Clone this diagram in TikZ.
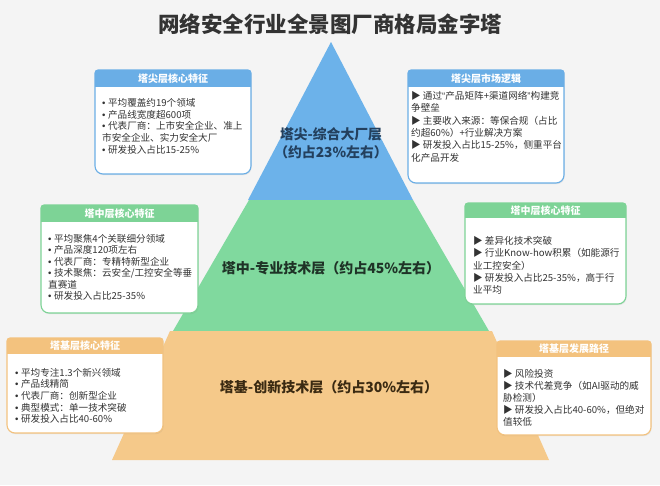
\documentclass[tikz,border=0pt]{standalone}
\usepackage{fontspec}
\setmainfont{Noto Sans CJK SC}
\newfontfamily\bulfont{Liberation Sans}
\newcommand{\bul}{{\bulfont •}\hspace{2.5pt}}
\newcommand{\myopq}{{\bulfont “}}
\newcommand{\myclq}{{\bulfont ”}}
\usetikzlibrary{shadows}
\definecolor{bg}{HTML}{F4F4F4}
\definecolor{pblue}{HTML}{6CB2EA}
\definecolor{pgreen}{HTML}{80D99E}
\definecolor{porange}{HTML}{F5C98A}
\definecolor{hblue}{HTML}{6AAEE6}
\definecolor{hgreen}{HTML}{7DD396}
\definecolor{horange}{HTML}{F3C27E}
\definecolor{txt}{HTML}{333333}
\definecolor{tblue}{HTML}{23405E}
\definecolor{tgreen}{HTML}{1F3327}
\definecolor{torange}{HTML}{3A2A12}
\tikzset{
  bodytext/.style={anchor=north west, align=left, inner sep=0pt, text=txt, font=\fontsize{9.6}{#1}\selectfont},
  bodytext/.default=12,
  hdrtext/.style={text=white, font=\bfseries\fontsize{10}{12}\selectfont, inner sep=0pt},
  layertext/.style={font=\bfseries\fontsize{14}{18}\selectfont, align=center, inner sep=0pt},
  boxshadow/.style={drop shadow={opacity=0.15,shadow xshift=0.6pt,shadow yshift=-1.2pt}},
}
\newcommand{\infobox}[8]{%
  \fill[white, boxshadow] (#2,{(#3+#5)/2}) [rounded corners=3pt] -- (#2,#3) -- (#4,#3) -- (#4,{(#3+#5)/2}) [rounded corners=8pt] -- (#4,#5) -- (#2,#5) -- cycle;
  \begin{scope}
    \clip (#2,{(#3+#5)/2}) [rounded corners=3pt] -- (#2,#3) -- (#4,#3) -- (#4,{(#3+#5)/2}) [rounded corners=8pt] -- (#4,#5) -- (#2,#5) -- cycle;
    \fill[#7] (#2,#3) rectangle (#4,#6);
  \end{scope}
  \draw[#7, line width=1.1pt] (#2,{(#3+#5)/2}) [rounded corners=3pt] -- (#2,#3) -- (#4,#3) -- (#4,{(#3+#5)/2}) [rounded corners=8pt] -- (#4,#5) -- (#2,#5) -- cycle;
  \node[hdrtext] (#1) at ({(#2+#4)/2},{(#3+#6)/2}) {#8};
}
\begin{document}
\begin{tikzpicture}[x=1pt,y=-1pt]
\useasboundingbox (0,0) rectangle (660,485);
\fill[bg] (0,0) rectangle (660,485);

% title
\node[font=\bfseries\fontsize{21.5}{26}\selectfont, text=txt] (title) at (330,24) {网络安全行业全景图厂商格局金字塔};

% pyramid
\fill[pblue] (331,42) -- (413,200) -- (248,200) -- cycle;
\fill[pgreen] (249,200) -- (413,200) -- (489,331) -- (173,331) -- cycle;
\fill[porange] (170,331) -- (492,331) -- (549,460) -- (112,460) -- cycle;

\node[layertext, text=tblue, font=\bfseries\fontsize{13.8}{18.5}\selectfont] (tiptext) at (331,143) {塔尖-综合大厂层\\（约占23\%左右）};
\node[layertext, text=tgreen] (midtext) at (331,268) {塔中-专业技术层（约占45\%左右）};
\node[layertext, text=torange] (basetext) at (329,387) {塔基-创新技术层（约占30\%左右）};

% boxes
\infobox{tlh}{95}{70}{251}{174}{87}{hblue}{塔尖层核心特征}
\node[bodytext=11.8] (tlbody) at (102,98) {\bul 平均覆盖约19个领域\\\bul 产品线宽度超600项\\\bul 代表厂商：上市安全企业、准上\\市安全企业、实力安全大厂\\\bul 研发投入占比15-25\%};

\infobox{trh}{408}{70}{564}{183}{87}{hblue}{塔尖层市场逻辑}
\node[bodytext=12.4] (trbody) at (411,91) {▶ 通过\myopq 产品矩阵+渠道网络\myclq 构建竞\\争壁垒\\▶ 主要收入来源：等保合规（占比\\约超60\%）+行业解决方案\\▶ 研发投入占比15-25\%，侧重平台\\化产品开发};

\infobox{mlh}{41}{205}{198}{313}{222}{hgreen}{塔中层核心特征}
\node[bodytext=11.5] (mlbody) at (48,234) {\bul 平均聚焦4个关联细分领域\\\bul 产品深度120项左右\\\bul 代表厂商：专精特新型企业\\\bul 技术聚焦：云安全/工控安全等垂\\直赛道\\\bul 研发投入占比25-35\%};

\infobox{mrh}{465}{203}{626}{304}{218}{hgreen}{塔中层核心特征}
\node[bodytext=12.4] (mrbody) at (473,236) {▶ 差异化技术突破\\▶ 行业Know-how积累（如能源行\\业工控安全）\\▶ 研发投入占比25-35\%，高于行\\业平均};

\infobox{blh}{7}{338}{163}{433}{354}{horange}{塔基层核心特征}
\node[bodytext=11.6] (blbody) at (15,368) {\bul 平均专注1.3个新兴领域\\\bul 产品线精简\\\bul 代表厂商：创新型企业\\\bul 典型模式：单一技术突破\\\bul 研发投入占比40-60\%};

\infobox{brh}{497}{341}{651}{435}{357}{horange}{塔基层发展路径}
\node[bodytext=12] (brbody) at (503,369) {▶ 风险投资\\▶ 技术代差竞争（如AI驱动的威\\胁检测）\\▶ 研发投入占比40-60\%，但绝对\\值较低};
\end{tikzpicture}
\end{document}
